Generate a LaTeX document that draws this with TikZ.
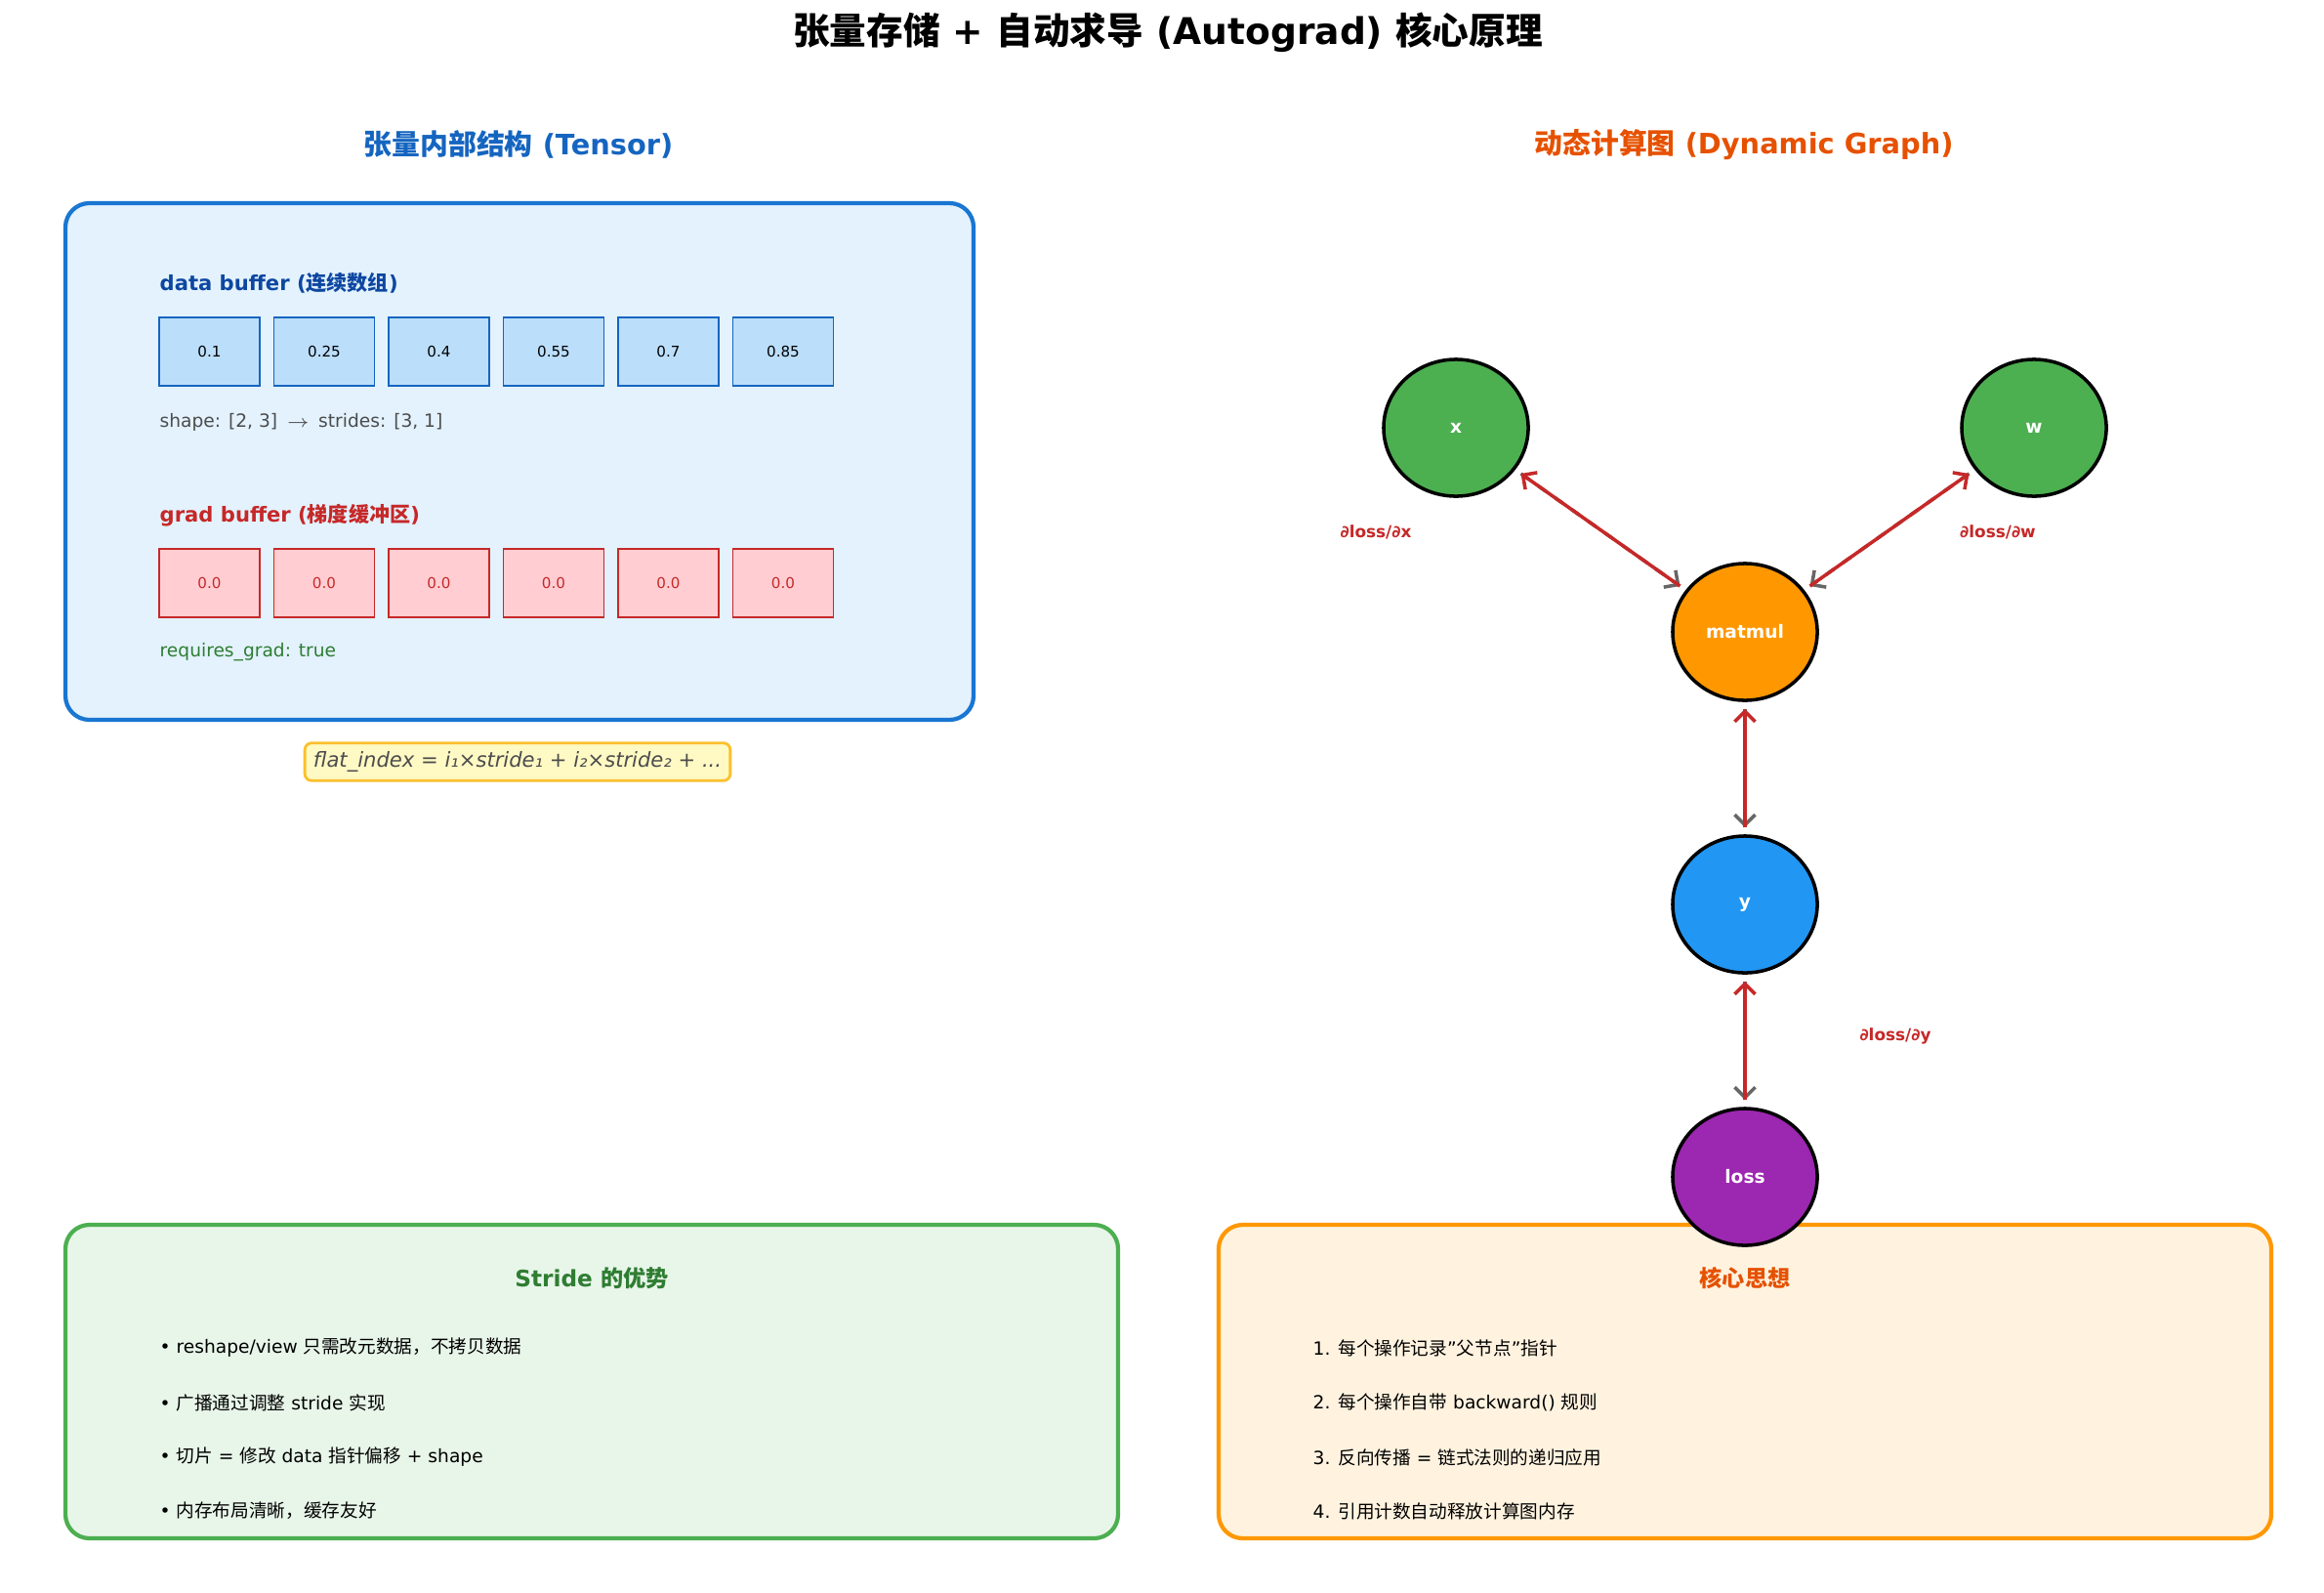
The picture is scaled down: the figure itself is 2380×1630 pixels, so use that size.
\documentclass[tikz,border=0pt]{standalone}
\usepackage{fontspec}
\setmainfont{DejaVu Sans}
\newfontfamily\cjk{Noto Sans CJK SC}
\usetikzlibrary{arrows.meta,shapes.geometric,positioning}
\definecolor{tblue}{HTML}{1565C0}
\definecolor{tdblue}{HTML}{0D47A1}
\definecolor{tred}{HTML}{C62828}
\definecolor{tgreen}{HTML}{2E7D32}
\definecolor{torange}{HTML}{E65100}
\definecolor{panelblue}{HTML}{1976D2}
\definecolor{fillblue}{HTML}{E3F2FD}
\definecolor{cellblue}{HTML}{BBDEFB}
\definecolor{cellred}{HTML}{FFCDD2}
\definecolor{panelgreen}{HTML}{4CAF50}
\definecolor{fillgreen}{HTML}{E8F5E9}
\definecolor{panelorange}{HTML}{FF9800}
\definecolor{fillorange}{HTML}{FFF3E0}
\definecolor{nodeblue}{HTML}{2196F3}
\definecolor{nodepurple}{HTML}{9C27B0}
\definecolor{fillyellow}{HTML}{FFF9C4}
\definecolor{lineyellow}{HTML}{FBC02D}
\tikzset{
    panel/.style={
           rectangle,
           rounded corners=7pt,
           line width=1.2pt,
           },
    cell/.style={
           rectangle,
           draw, thin,
           minimum width=1.03cm,
           minimum height=0.70cm,
           font=\fontsize{4.3}{5}\selectfont,
           },
    var/.style={
           ellipse,
           draw=black, line width=1pt,
           minimum width=1.48cm,
           minimum height=1.40cm,
           inner sep=0pt,
           text=white,
           font=\fontsize{5.3}{6}\selectfont\bfseries,
           },
    fwd/.style={
           -{Straight Barb[length=3pt]},
           draw=gray!80!black, dashed, line width=1pt,
           shorten <=2pt,
           shorten >=2pt,},
    bwd/.style={
           -{Straight Barb[length=3pt]},
           draw=tred, line width=1pt,
           shorten <=2pt,
           shorten >=2pt,},
    item/.style={anchor=west, inner sep=0pt, font=\fontsize{5.3}{6}\selectfont},
    glabel/.style={text=tred, font=\fontsize{4.8}{6}\selectfont\bfseries},
}

\begin{document}
\begin{tikzpicture}[x=0.01cm,y=-0.01cm]
\useasboundingbox (0,0) rectangle (2380,1630);
% TITLE
\node[font=\fontsize{10.7}{13}\selectfont\bfseries] (TITLE) at (1196,33)
{{\cjk 张量存储} + {\cjk 自动求导} (Autograd) {\cjk 核心原理}};
% Headings
\node[text=tblue, font=\fontsize{8.2}{10}\selectfont\bfseries] (HTENSOR) at (531,148)
{{\cjk 张量内部结构} (Tensor)};
\node[text=torange, font=\fontsize{8.2}{10}\selectfont\bfseries] (HGRAPH) at (1786,148)
{{\cjk 动态计算图} (Dynamic Graph)};
% Tensor panel
\draw[panel, draw=panelblue, fill=fillblue] (67,208) rectangle (997,737);
\node[anchor=west, inner sep=0pt, text=tdblue, font=\fontsize{6}{7}\selectfont\bfseries] (DATA) at (163,290)
{data buffer ({\cjk 连续数组})};
\foreach \v [count=\i from 0] in {0.1,0.25,0.4,0.55,0.7,0.85}
  \node[cell, draw=tblue, fill=cellblue] (D\i) at (214.5+117.5*\i,360) {\v};
\node[anchor=west, inner sep=0pt, text=black!70, font=\fontsize{5.3}{6}\selectfont] (SHAPE) at (163,432)
{shape: [2, 3] \,$\rightarrow$\, strides: [3, 1]};
\node[anchor=west, inner sep=0pt, text=tred, font=\fontsize{6}{7}\selectfont\bfseries] (GRAD) at (163,528)
{grad buffer ({\cjk 梯度缓冲区})};
\foreach \i in {0,...,5}
  \node[cell, draw=tred, fill=cellred, text=tred] (G\i) at (214.5+117.5*\i,597) {0.0};
\node[anchor=west, inner sep=0pt, text=tgreen, font=\fontsize{5.3}{6}\selectfont] (REQ) at (163,668)
{requires\_grad: true};
% Formula
\node[draw=lineyellow, fill=fillyellow, rounded corners=2pt, thick,
      text=black!70, font=\fontsize{6}{7}\selectfont\itshape, inner sep=2.5pt] (FORMULA) at (530,780)
{flat\_index = i₁×stride₁ + i₂×stride₂ + ...};
% Bottom panels
\draw[panel, draw=panelgreen, fill=fillgreen] (67,1254) rectangle (1145,1575);
\node[text=tgreen, font=\fontsize{6.6}{8}\selectfont\bfseries] (HSTRIDE) at (606,1309)
{Stride {\cjk 的优势}};
\node[item] (S1) at (163,1380) {• reshape/view {\cjk 只需改元数据，不拷贝数据}};
\node[item] (S2) at (163,1436) {• {\cjk 广播通过调整} stride {\cjk 实现}};
\node[item] (S3) at (163,1492) {• {\cjk 切片} = {\cjk 修改} data {\cjk 指针偏移} + shape};
\node[item] (S4) at (163,1547) {• {\cjk 内存布局清晰，缓存友好}};
\draw[panel, draw=panelorange, fill=fillorange] (1248,1254) rectangle (2326,1575);
\node[text=torange, font=\fontsize{6.6}{8}\selectfont\bfseries] (HCORE) at (1787,1309)
{{\cjk 核心思想}};
\node[item] (C1) at (1344,1380) {1. {\cjk 每个操作记录}"{\cjk 父节点}"{\cjk 指针}};
\node[item] (C2) at (1344,1436) {2. {\cjk 每个操作自带} backward() {\cjk 规则}};
\node[item] (C3) at (1344,1492) {3. {\cjk 反向传播} = {\cjk 链式法则的递归应用}};
\node[item] (C4) at (1344,1547) {4. {\cjk 引用计数自动释放计算图内存}};
% Graph nodes
\node[var, fill=panelgreen] (X) at (1491,438) {x};
\node[var, fill=panelgreen] (W) at (2083,438) {w};
\node[var, fill=panelorange] (MATMUL) at (1787,647) {matmul};
\node[var, fill=nodeblue] (Y) at (1787,926) {y};
\node[var, fill=nodepurple] (LOSS) at (1787,1205) {loss};
% Forward and backward edges
\draw[fwd] (X) -- (MATMUL);
\draw[fwd] (W) -- (MATMUL);
\draw[fwd] (MATMUL) -- (Y);
\draw[fwd] (Y) -- (LOSS);
\draw[bwd] (MATMUL) -- (X);
\draw[bwd] (MATMUL) -- (W);
\draw[bwd] (Y) -- (MATMUL);
\draw[bwd] (LOSS) -- (Y);
% Gradient labels
\node[glabel] (DX) at (1409,545) {∂loss/∂x};
\node[glabel] (DW) at (2046,545) {∂loss/∂w};
\node[glabel] (DY) at (1941,1061) {∂loss/∂y};
\end{tikzpicture}
\end{document}
